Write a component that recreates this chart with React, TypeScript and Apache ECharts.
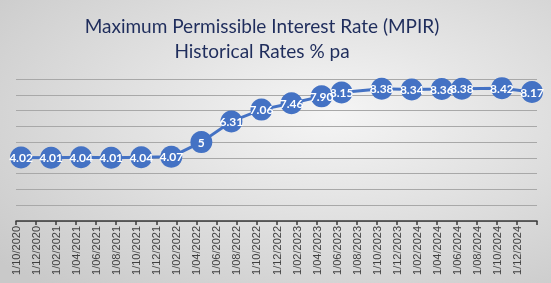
import React, { useEffect, useRef } from "react";
import * as echarts from "echarts";

const titleLines = ["Maximum Permissible Interest Rate (MPIR)", "Historical Rates % pa"];

// observation months (yyyy-mm) and MPIR values
const obsMonths = [
  "2020-10", "2021-01", "2021-04", "2021-07", "2021-10", "2022-01", "2022-04", "2022-07", "2022-10",
  "2023-01", "2023-04", "2023-06", "2023-10", "2024-01", "2024-04", "2024-06", "2024-10", "2025-01",
];
const rates = [4.02, 4.01, 4.04, 4.01, 4.04, 4.07, 5, 6.31, 7.06, 7.46, 7.9, 8.15, 8.38, 8.34, 8.36, 8.38, 8.42, 8.17];

const tickLabels = [
  "1/10/2020", "1/12/2020", "1/02/2021", "1/04/2021", "1/06/2021", "1/08/2021", "1/10/2021",
  "1/12/2021", "1/02/2022", "1/04/2022", "1/06/2022", "1/08/2022", "1/10/2022", "1/12/2022",
  "1/02/2023", "1/04/2023", "1/06/2023", "1/08/2023", "1/10/2023", "1/12/2023", "1/02/2024",
  "1/04/2024", "1/06/2024", "1/08/2024", "1/10/2024", "1/12/2024",
];

const START_YEAR = 2020;
const START_MONTH = 10;

function monthIndex(ym: string): number {
  const [y, m] = ym.split("-").map(Number);
  return (y - START_YEAR) * 12 + (m - START_MONTH);
}

function fmt(v: number): string {
  return Number.isInteger(v) ? String(v) : v.toFixed(2);
}

export default function App() {
  const ref = useRef<HTMLDivElement>(null);
  useEffect(() => {
    if (!ref.current) return;
    const chart = echarts.init(ref.current, null, { renderer: "svg" });
    const data = obsMonths.map((m, i) => [monthIndex(m) + 0.5, rates[i]]);
    chart.setOption({
      animation: false,
      backgroundColor: new echarts.graphic.RadialGradient(0.6, 0.4, 0.8, [
        { offset: 0, color: "#f5f5f5" },
        { offset: 1, color: "#c9c9c9" },
      ]),
      graphic: titleLines.map((t, i) => ({
        type: "text",
        x: 262,
        y: 25 + i * 25,
        style: {
          text: t,
          fill: "#1f2d5c",
          font: '19px Lato, "Open Sans", sans-serif',
          textAlign: "center",
          textVerticalAlign: "middle",
        },
      })),
      grid: { left: 16, right: 14, top: 79, bottom: 62, containLabel: false },
      xAxis: {
        type: "value",
        min: 0,
        max: 52,
        interval: 2,
        axisLine: { show: true, lineStyle: { color: "#3a3a3a", width: 1.5 } },
        axisTick: { show: true, inside: false, length: 4, lineStyle: { color: "#3a3a3a", width: 1.5 } },
        splitLine: { show: false },
        axisLabel: {
          rotate: 90,
          margin: 5,
          color: "#404040",
          fontSize: 11,
          fontFamily: "Liberation Sans, Arial, sans-serif",
          showMaxLabel: true,
          formatter: (v: number) => tickLabels[Math.round(v / 2)] ?? "",
        },
      },
      yAxis: {
        type: "value",
        min: 0,
        max: 9,
        interval: 1,
        axisLine: { show: false },
        axisTick: { show: false },
        axisLabel: { show: false },
        splitLine: { show: true, lineStyle: { color: "#a8a8a8", width: 1.2 } },
      },
      series: [
        {
          type: "line",
          data,
          symbol: "circle",
          symbolSize: 22,
          lineStyle: { color: "#4472c4", width: 3 },
          itemStyle: { color: "#4472c4" },
          label: {
            show: true,
            position: "inside",
            color: "#ffffff",
            fontSize: 12,
            fontWeight: "bold",
            fontFamily: "Lato, sans-serif",
            formatter: (p: any) => fmt(p.value[1]),
          },
          z: 3,
        },
      ],
    });
    return () => chart.dispose();
  }, []);
  return (
    <div
      ref={ref}
      style={{ position: "fixed", left: 0, top: 0, width: 551, height: 283 }}
    />
  );
}
